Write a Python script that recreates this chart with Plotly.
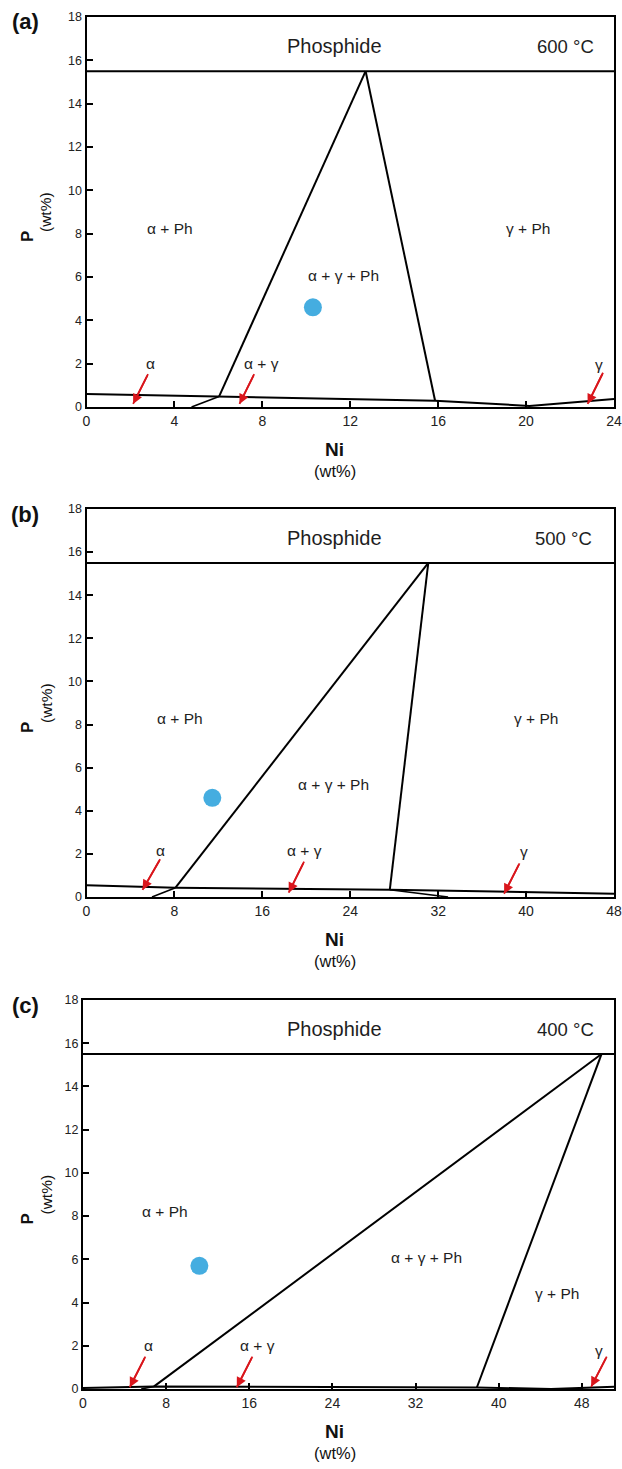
import plotly.graph_objects as go

FONT = "Liberation Sans, Arial, sans-serif"
W, H = 622, 1469
PHOSPHIDE_P = 15.5
LINE_W = 2
ARROW_RED = "#d9161c"
DOT_BLUE = "#45ade0"
TEXT_DARK = "#1e1e1e"

# ---------- (a) 600 °C ----------
a_ni_max = 24
a_ticks = [0, 4, 8, 12, 16, 20, 24]
a_boundary_ni = [0, 6.03, 15.86, 20.15, 24]
a_boundary_p = [0.6, 0.48, 0.29, 0.05, 0.37]
a_left_leg_ni = [6.03, 12.7]
a_left_leg_p = [0.48, 15.5]
a_right_leg_ni = [15.86, 12.7]
a_right_leg_p = [0.29, 15.5]
a_foot_ni = [4.78, 6.03]
a_foot_p = [0.0, 0.48]
a_sample_ni = [10.3]
a_sample_p = [4.6]
a_region_text = ["α + Ph", "γ + Ph", "α + γ + Ph"]
a_region_ni = [3.8, 20.1, 11.7]
a_region_p = [8.26, 8.26, 6.05]
a_arrow_text = ["α", "α + γ", "γ"]
a_arrow_text_ni = [2.93, 7.98, 23.3]
a_arrow_text_p = [2.03, 2.03, 1.95]
a_arrow_tail_ni = [2.8, 7.63, 23.5]
a_arrow_tail_p = [1.52, 1.52, 1.58]
a_arrow_tip_ni = [2.12, 6.96, 22.8]
a_arrow_tip_p = [0.14, 0.14, 0.14]

# ---------- (b) 500 °C ----------
b_ni_max = 48
b_ticks = [0, 8, 16, 24, 32, 40, 48]
b_boundary_ni = [0, 8.1, 27.6, 48]
b_boundary_p = [0.54, 0.43, 0.34, 0.15]
b_left_leg_ni = [8.1, 31.1]
b_left_leg_p = [0.43, 15.5]
b_right_leg_ni = [27.6, 31.1]
b_right_leg_p = [0.34, 15.5]
b_foot_ni = [5.96, 8.1]
b_foot_p = [0.0, 0.43]
b_foot2_ni = [27.6, 32.9]
b_foot2_p = [0.34, 0.0]
b_sample_ni = [11.45]
b_sample_p = [4.6]
b_region_text = ["α + Ph", "γ + Ph", "α + γ + Ph"]
b_region_ni = [8.5, 40.9, 22.5]
b_region_p = [8.3, 8.3, 5.2]
b_arrow_text = ["α", "α + γ", "γ"]
b_arrow_text_ni = [6.75, 19.8, 39.8]
b_arrow_text_p = [2.15, 2.15, 2.1]
b_arrow_tail_ni = [6.7, 19.8, 39.4]
b_arrow_tail_p = [1.75, 1.64, 1.56]
b_arrow_tip_ni = [5.1, 18.4, 38.0]
b_arrow_tip_p = [0.33, 0.2, 0.15]

# ---------- (c) 400 °C ----------
c_ni_max = 51.1
c_ticks = [0, 8, 16, 24, 32, 40, 48]
c_boundary_ni = [0, 6.84, 37.9, 45.05, 51.1]
c_boundary_p = [0.05, 0.12, 0.07, 0.0, 0.1]
c_left_leg_ni = [6.84, 49.9]
c_left_leg_p = [0.12, 15.5]
c_right_leg_ni = [37.9, 49.9]
c_right_leg_p = [0.07, 15.5]
c_foot_ni = [5.6, 6.84]
c_foot_p = [0.0, 0.12]
c_sample_ni = [11.2]
c_sample_p = [5.7]
c_region_text = ["α + Ph", "α + γ + Ph", "γ + Ph"]
c_region_ni = [7.9, 33.1, 45.6]
c_region_p = [8.2, 6.07, 4.44]
c_arrow_text = ["α", "α + γ", "γ"]
c_arrow_text_ni = [6.35, 16.8, 49.7]
c_arrow_text_p = [2.0, 2.0, 1.8]
c_arrow_tail_ni = [6.0, 16.3, 50.4]
c_arrow_tail_p = [1.5, 1.5, 1.5]
c_arrow_tip_ni = [4.5, 14.8, 48.9]
c_arrow_tip_p = [0.08, 0.08, 0.1]

temperatures = ["600 °C", "500 °C", "400 °C"]
temp_ni = [21.8, 43.4, 46.4]
phosphide_label_ni = [11.3, 22.6, 24.2]
phosphide_label_p = 16.65
panel_letters = ["(a)", "(b)", "(c)"]

# plot frames in pixels: left, right, top, bottom
frames = [(86.5, 614, 17, 407), (86.5, 614, 509, 897), (83, 614, 1000, 1389)]

panels = [
    dict(ni_max=a_ni_max, ticks=a_ticks, bnd=(a_boundary_ni, a_boundary_p),
         legs=[(a_left_leg_ni, a_left_leg_p), (a_right_leg_ni, a_right_leg_p)],
         feet=[(a_foot_ni, a_foot_p)], sample=(a_sample_ni, a_sample_p),
         regions=(a_region_text, a_region_ni, a_region_p),
         arrows=(a_arrow_text, a_arrow_text_ni, a_arrow_text_p, a_arrow_tail_ni,
                 a_arrow_tail_p, a_arrow_tip_ni, a_arrow_tip_p)),
    dict(ni_max=b_ni_max, ticks=b_ticks, bnd=(b_boundary_ni, b_boundary_p),
         legs=[(b_left_leg_ni, b_left_leg_p), (b_right_leg_ni, b_right_leg_p)],
         feet=[(b_foot_ni, b_foot_p), (b_foot2_ni, b_foot2_p)], sample=(b_sample_ni, b_sample_p),
         regions=(b_region_text, b_region_ni, b_region_p),
         arrows=(b_arrow_text, b_arrow_text_ni, b_arrow_text_p, b_arrow_tail_ni,
                 b_arrow_tail_p, b_arrow_tip_ni, b_arrow_tip_p)),
    dict(ni_max=c_ni_max, ticks=c_ticks, bnd=(c_boundary_ni, c_boundary_p),
         legs=[(c_left_leg_ni, c_left_leg_p), (c_right_leg_ni, c_right_leg_p)],
         feet=[(c_foot_ni, c_foot_p)], sample=(c_sample_ni, c_sample_p),
         regions=(c_region_text, c_region_ni, c_region_p),
         arrows=(c_arrow_text, c_arrow_text_ni, c_arrow_text_p, c_arrow_tail_ni,
                 c_arrow_tail_p, c_arrow_tip_ni, c_arrow_tip_p)),
]

fig = go.Figure()
annotations = []
layout_axes = {}


def px_x(v):
    return v / W


def px_y(v):
    return 1 - v / H


def label(x, y, text, size, xref="paper", yref="paper", angle=0, color="#111"):
    return dict(x=x, y=y, xref=xref, yref=yref, text=text, textangle=angle,
                showarrow=False, xanchor="center", yanchor="middle",
                font=dict(family=FONT, size=size, color=color))


for i, (pn, fr) in enumerate(zip(panels, frames)):
    n = "" if i == 0 else str(i + 1)
    xa, ya = "x" + n, "y" + n
    left, right, top, bottom = fr

    def line(xs, ys, color="black", width=LINE_W):
        fig.add_trace(go.Scatter(x=xs, y=ys, mode="lines", xaxis=xa, yaxis=ya,
                                 line=dict(color=color, width=width),
                                 hoverinfo="skip", showlegend=False))

    # phosphide boundary
    line([0, pn["ni_max"]], [PHOSPHIDE_P, PHOSPHIDE_P])
    # lower solvus boundary
    line(*pn["bnd"])
    for lg in pn["legs"]:
        line(*lg)
    for ft in pn["feet"]:
        line(*ft, width=1.6)
    # sample composition
    fig.add_trace(go.Scatter(x=pn["sample"][0], y=pn["sample"][1], mode="markers",
                             xaxis=xa, yaxis=ya, hoverinfo="skip", showlegend=False,
                             marker=dict(size=18, color=DOT_BLUE, line=dict(width=0))))

    layout_axes["xaxis" + n] = dict(
        domain=[px_x(left), px_x(right)], range=[0, pn["ni_max"]], anchor=ya,
        tickvals=pn["ticks"], ticks="inside", ticklen=6, tickwidth=2, tickcolor="black",
        showline=True, mirror=True, linewidth=2, linecolor="black",
        showgrid=False, zeroline=False, automargin=False,
        tickfont=dict(family=FONT, size=14, color="#222"))
    layout_axes["yaxis" + n] = dict(
        domain=[px_y(bottom), px_y(top)], range=[0, 18], anchor=xa,
        tickvals=list(range(0, 19, 2)), ticks="inside", ticklen=6, tickwidth=2,
        tickcolor="black", showline=True, mirror=True, linewidth=2, linecolor="black",
        showgrid=False, zeroline=False, automargin=False,
        tickfont=dict(family=FONT, size=12.5, color="#222"))

    # field labels
    for t, xv, yv in zip(*pn["regions"]):
        annotations.append(label(xv, yv, t, 15.5, xa, ya, color=TEXT_DARK))
    annotations.append(label(phosphide_label_ni[i], phosphide_label_p, "Phosphide", 20,
                             xa, ya, color=TEXT_DARK))
    annotations.append(label(temp_ni[i], phosphide_label_p, temperatures[i], 18.5,
                             xa, ya, color=TEXT_DARK))

    # single-phase / two-phase pointers: shaft drawn as a line, head as an annotation
    txt, tx, ty, ax_, ay_, hx, hy = pn["arrows"]
    for k in range(len(txt)):
        annotations.append(label(tx[k], ty[k], txt[k], 15.5, xa, ya, color=TEXT_DARK))
        line([ax_[k], hx[k]], [ay_[k], hy[k]], color=ARROW_RED, width=1.8)
        annotations.append(dict(x=hx[k], y=hy[k], ax=ax_[k], ay=ay_[k], xref=xa, yref=ya,
                                axref=xa, ayref=ya, text="", showarrow=True,
                                arrowhead=2, arrowsize=1.1, arrowwidth=1.8,
                                arrowcolor=ARROW_RED, standoff=0, startstandoff=0))

    # axis titles and panel letter
    mid_y = (top + bottom) / 2
    annotations.append(label(px_x(27), px_y(mid_y + 25), "<b>P</b>", 17, angle=-90))
    annotations.append(label(px_x(46), px_y(mid_y), "(wt%)", 15.5, angle=-90))
    annotations.append(label(px_x(335), px_y(bottom + 42), "<b>Ni</b>", 19))
    annotations.append(label(px_x(335), px_y(bottom + 64), "(wt%)", 16.5))
    annotations.append(label(px_x(25), px_y(top + 5), "<b>" + panel_letters[i] + "</b>", 22))

fig.update_layout(
    width=W, height=H, margin=dict(l=0, r=0, t=0, b=0),
    paper_bgcolor="white", plot_bgcolor="white",
    showlegend=False, annotations=annotations, **layout_axes)

fig.write_html("out.html")
